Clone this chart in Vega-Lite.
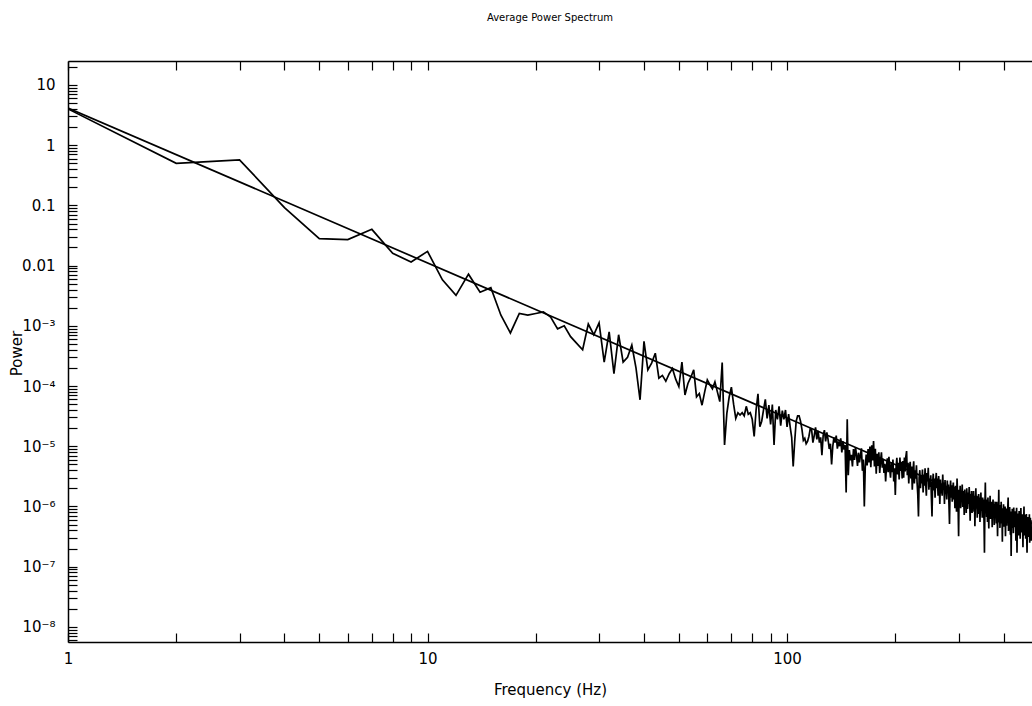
{
"$schema":"https://vega.github.io/schema/vega-lite/v6.json",
"width":964,"height":581,
"autosize":{"type":"none"},
"padding":{"left":68,"top":61,"right":0,"bottom":64},
"background":"white",
"title":{"text":"Average Power Spectrum","font":"DejaVu Sans","fontSize":10,"fontWeight":"normal","color":"black","anchor":"middle","offset":27,"baseline":"bottom"},
"datasets":{
"spec":[
{"f":1,"p":4.0},{"f":2,"p":0.5},{"f":3,"p":0.57},{"f":4,"p":0.092},{"f":5,"p":0.028},{"f":6,"p":0.027},{"f":7,"p":0.04},{"f":8,"p":0.016},{"f":9,"p":0.0115},{"f":10,"p":0.0172},
{"f":11,"p":0.0058},{"f":12,"p":0.0032},{"f":13,"p":0.0072},{"f":14,"p":0.0036},{"f":15,"p":0.0043},{"f":16,"p":0.0015},{"f":17,"p":0.00076},{"f":18,"p":0.0016},{"f":19,"p":0.0015},{"f":20,"p":0.0016},
{"f":21,"p":0.0017},{"f":22,"p":0.0014},{"f":23,"p":0.00089},{"f":24,"p":0.001},{"f":25,"p":0.00066},{"f":26,"p":0.00051},{"f":27,"p":0.0004},{"f":28,"p":0.00107},{"f":29,"p":0.00071},{"f":30,"p":0.00112},
{"f":31,"p":0.00025},{"f":32,"p":0.00079},{"f":33,"p":0.00016},{"f":34,"p":0.00071},{"f":35,"p":0.00025},{"f":36,"p":0.0003},{"f":37,"p":0.00048},{"f":38,"p":0.0002},{"f":39,"p":5.9e-5},{"f":40,"p":0.00055},
{"f":41,"p":0.000185},{"f":42,"p":0.00024},{"f":43,"p":0.00035},{"f":44,"p":0.000135},{"f":45,"p":0.00015},{"f":46,"p":0.00012},{"f":47,"p":0.00016},{"f":48,"p":0.000195},{"f":49,"p":0.00013},{"f":50,"p":9.8e-5},
{"f":51,"p":0.00025},{"f":52,"p":7.1e-5},{"f":53,"p":0.00011},{"f":54,"p":0.00014},{"f":55,"p":0.000185},{"f":56,"p":6.6e-5},{"f":57,"p":7.5e-5},{"f":58,"p":4.8e-5},{"f":59,"p":8.0e-5},{"f":60,"p":0.000126},
{"f":61,"p":0.000105},{"f":62,"p":9.0e-5},{"f":63,"p":0.000117},{"f":64,"p":8.0e-5},{"f":65,"p":5.5e-5},{"f":66,"p":0.000245},{"f":67,"p":1.05e-5},{"f":68,"p":3.5e-5},{"f":69,"p":6.5e-5},{"f":70,"p":9.6e-5},
{"f":71,"p":5.0e-5},{"f":72,"p":2.9e-5},{"f":73,"p":3.6e-5},{"f":74,"p":3.3e-5},{"f":75,"p":3.6e-5},{"f":76,"p":3.2e-5},{"f":77,"p":4.6e-5},{"f":78,"p":3.4e-5},{"f":79,"p":3.6e-5},{"f":80,"p":2.8e-5},
{"f":81,"p":1.45e-5},{"f":82,"p":4.0e-5},{"f":83,"p":7.4e-5},{"f":84,"p":2.1e-5},{"f":85,"p":2.6e-5},{"f":86,"p":4.0e-5},{"f":87,"p":6.0e-5},{"f":88,"p":2.9e-5},{"f":89,"p":4.8e-5},{"f":90,"p":2.3e-5},
{"f":91,"p":4.9e-5},{"f":92,"p":1.05e-5},{"f":93,"p":4.0e-5},{"f":94,"p":2.8e-5},{"f":95,"p":4.6e-5},{"f":96,"p":2.2e-5},{"f":97,"p":3.9e-5},{"f":98,"p":2.8e-5},{"f":99,"p":4.0e-5},{"f":100,"p":2.1e-5},
{"f":101,"p":3.4e-5},{"f":102,"p":2.1e-5},{"f":103,"p":1.4e-5},{"f":104,"p":4.6e-6},{"f":105,"p":1.2e-5},{"f":106,"p":2.6e-5},{"f":107,"p":3.2e-5},{"f":108,"p":3.2e-5},{"f":109,"p":2.6e-5},{"f":110,"p":1.9e-5},
{"f":111,"p":1.25e-5},{"f":112,"p":1.35e-5},{"f":113,"p":1.1e-5},{"f":114,"p":1.2e-5},{"f":115,"p":1.45e-5},{"f":116,"p":1.95e-5},{"f":117,"p":1.9e-5},{"f":118,"p":1.15e-5},{"f":119,"p":1.5e-5},{"f":120,"p":2.05e-5},
{"f":121,"p":1.3e-5},{"f":122,"p":1.8e-5},{"f":123,"p":1.15e-5},{"f":124,"p":1.4e-5},{"f":125,"p":7.1e-6},{"f":126,"p":1.5e-5},{"f":127,"p":1.85e-5},{"f":128,"p":1.2e-5},{"f":129,"p":1.7e-5},{"f":130,"p":1.3e-5},
{"f":131,"p":9.0e-6},{"f":132,"p":1.1e-5},{"f":133,"p":5.0e-6},{"f":134,"p":9.9e-6},{"f":135,"p":1.4e-5},{"f":136,"p":1.15e-5},{"f":137,"p":1.5e-5},{"f":138,"p":9.1e-6},{"f":139,"p":1.2e-5},{"f":140,"p":1.0e-5},
{"f":141,"p":1.35e-5},{"f":142,"p":7.9e-6},{"f":143,"p":1.2e-5},{"f":144,"p":8.8e-6},{"f":145,"p":1.05e-5},{"f":146,"p":1.7e-6},{"f":147,"p":2.8e-5},{"f":148,"p":3.3e-6},{"f":149,"p":8.6e-6},{"f":150,"p":5.8e-6},
{"f":151,"p":7.2e-6},{"f":152,"p":4.6e-6},{"f":153,"p":9.0e-6},{"f":154,"p":5.9e-6},{"f":155,"p":9.7e-6},{"f":156,"p":7.1e-6},{"f":157,"p":4.7e-6},{"f":158,"p":7.8e-6},{"f":159,"p":5.4e-6},{"f":160,"p":7.1e-6},
{"f":161,"p":9.2e-6},{"f":162,"p":3.9e-6},{"f":163,"p":6.0e-6},{"f":164,"p":1.0e-6},{"f":165,"p":4.5e-6},{"f":166,"p":7.3e-6},{"f":167,"p":4.8e-6},{"f":168,"p":9.0e-6},{"f":169,"p":5.4e-6},{"f":170,"p":9.9e-6},
{"f":171,"p":4.5e-6},{"f":172,"p":1.04e-5},{"f":173,"p":5.8e-6},{"f":174,"p":1.22e-5},{"f":175,"p":4.6e-6},{"f":176,"p":9.1e-6},{"f":177,"p":3.5e-6},{"f":178,"p":7.5e-6},{"f":179,"p":4.7e-6},{"f":180,"p":7.9e-6},
{"f":181,"p":3.6e-6},{"f":182,"p":5.8e-6},{"f":183,"p":7.9e-6},{"f":184,"p":4.4e-6},{"f":185,"p":6.2e-6},{"f":186,"p":3.6e-6},{"f":187,"p":5.1e-6},{"f":188,"p":2.6e-6},{"f":189,"p":4.6e-6},{"f":190,"p":6.3e-6},
{"f":191,"p":3.7e-6},{"f":192,"p":6.7e-6},{"f":193,"p":4.1e-6},{"f":194,"p":3.0e-6},{"f":195,"p":5.4e-6},{"f":196,"p":3.7e-6},{"f":197,"p":6.0e-6},{"f":198,"p":2.6e-6},{"f":199,"p":4.3e-6},{"f":200,"p":1.55e-6},
{"f":201,"p":4.5e-6},{"f":202,"p":6.4e-6},{"f":203,"p":3.4e-6},{"f":204,"p":5.3e-6},{"f":205,"p":2.8e-6},{"f":206,"p":6.5e-6},{"f":207,"p":3.9e-6},{"f":208,"p":5.5e-6},{"f":209,"p":2.9e-6},{"f":210,"p":5.7e-6},
{"f":211,"p":3.0e-6},{"f":212,"p":6.5e-6},{"f":213,"p":3.8e-6},{"f":214,"p":6.7e-6},{"f":215,"p":8.3e-6},{"f":216,"p":3.3e-6},{"f":217,"p":5.3e-6},{"f":218,"p":2.4e-6},{"f":219,"p":4.4e-6},{"f":220,"p":5.5e-6},
{"f":221,"p":2.9e-6},{"f":222,"p":4.6e-6},{"f":223,"p":1.9e-6},{"f":224,"p":3.75e-6},{"f":225,"p":5.6e-6},{"f":226,"p":2.4e-6},{"f":227,"p":4.0e-6},{"f":228,"p":2.9e-6},{"f":229,"p":4.8e-6},{"f":230,"p":2.4e-6},
{"f":231,"p":1.55e-6},{"f":232,"p":6.8e-7},{"f":233,"p":3.0e-6},{"f":234,"p":4.0e-6},{"f":235,"p":2.0e-6},{"f":236,"p":3.3e-6},{"f":237,"p":2.4e-6},{"f":238,"p":4.1e-6},{"f":239,"p":1.7e-6},{"f":240,"p":3.4e-6},
{"f":241,"p":2.2e-6},{"f":242,"p":4.3e-6},{"f":243,"p":2.4e-6},{"f":244,"p":1.5e-6},{"f":245,"p":3.6e-6},{"f":246,"p":2.6e-6},{"f":247,"p":4.4e-6},{"f":248,"p":1.9e-6},{"f":249,"p":2.8e-6},{"f":250,"p":2.1e-6},
{"f":251,"p":3.3e-6},{"f":252,"p":1.4e-6},{"f":253,"p":6.8e-7},{"f":254,"p":2.4e-6},{"f":255,"p":3.5e-6},{"f":256,"p":1.85e-6},{"f":257,"p":2.9e-6},{"f":258,"p":1.4e-6},{"f":259,"p":2.6e-6},{"f":260,"p":3.6e-6},
{"f":261,"p":2.0e-6},{"f":262,"p":2.9e-6},{"f":263,"p":1.5e-6},{"f":264,"p":3.2e-6},{"f":265,"p":2.2e-6},{"f":266,"p":1.1e-6},{"f":267,"p":2.8e-6},{"f":268,"p":1.65e-6},{"f":269,"p":2.4e-6},{"f":270,"p":1.5e-6},
{"f":271,"p":3.4e-6},{"f":272,"p":1.9e-6},{"f":273,"p":2.5e-6},{"f":274,"p":1.1e-6},{"f":275,"p":2.75e-6},{"f":276,"p":1.6e-6},{"f":277,"p":2.15e-6},{"f":278,"p":1.3e-6},{"f":279,"p":2.7e-6},{"f":280,"p":1.7e-6},
{"f":281,"p":2.3e-6},{"f":282,"p":1.1e-6},{"f":283,"p":5.1e-7},{"f":284,"p":1.8e-6},{"f":285,"p":2.7e-6},{"f":286,"p":1.4e-6},{"f":287,"p":2.25e-6},{"f":288,"p":1.2e-6},{"f":289,"p":1.9e-6},{"f":290,"p":2.5e-6},
{"f":291,"p":1.3e-6},{"f":292,"p":2.1e-6},{"f":293,"p":9.3e-7},{"f":294,"p":2.2e-6},{"f":295,"p":1.5e-6},{"f":296,"p":8.2e-7},{"f":297,"p":2.9e-6},{"f":298,"p":1.6e-6},{"f":299,"p":1.05e-6},{"f":300,"p":3.2e-7},
{"f":301,"p":1.9e-6},{"f":302,"p":1.2e-6},{"f":303,"p":2.2e-6},{"f":304,"p":9.3e-7},{"f":305,"p":1.7e-6},{"f":306,"p":1.25e-6},{"f":307,"p":2.3e-6},{"f":308,"p":9.8e-7},{"f":309,"p":1.8e-6},{"f":310,"p":1.3e-6},
{"f":311,"p":7.2e-7},{"f":312,"p":1.9e-6},{"f":313,"p":1.1e-6},{"f":314,"p":1.6e-6},{"f":315,"p":7.8e-7},{"f":316,"p":2.0e-6},{"f":317,"p":1.3e-6},{"f":318,"p":9.1e-7},{"f":319,"p":1.7e-6},{"f":320,"p":1.1e-6},
{"f":321,"p":2.1e-6},{"f":322,"p":1.3e-6},{"f":323,"p":5.8e-7},{"f":324,"p":1.6e-6},{"f":325,"p":1.0e-6},{"f":326,"p":1.8e-6},{"f":327,"p":7.8e-7},{"f":328,"p":1.4e-6},{"f":329,"p":1.1e-6},{"f":330,"p":1.8e-6},
{"f":331,"p":8.2e-7},{"f":332,"p":1.5e-6},{"f":333,"p":4.7e-7},{"f":334,"p":1.2e-6},{"f":335,"p":2.0e-6},{"f":336,"p":9.2e-7},{"f":337,"p":1.5e-6},{"f":338,"p":6.5e-7},{"f":339,"p":1.2e-6},{"f":340,"p":9.5e-7},
{"f":341,"p":1.6e-6},{"f":342,"p":7.5e-7},{"f":343,"p":1.4e-6},{"f":344,"p":5.5e-7},{"f":345,"p":1.2e-6},{"f":346,"p":1.7e-6},{"f":347,"p":8.5e-7},{"f":348,"p":1.1e-6},{"f":349,"p":6.5e-7},{"f":350,"p":1.4e-6},
{"f":351,"p":9.4e-7},{"f":352,"p":1.3e-6},{"f":353,"p":5.8e-7},{"f":354,"p":1.7e-7},{"f":355,"p":1.0e-6},{"f":356,"p":2.5e-6},{"f":357,"p":7.8e-7},{"f":358,"p":1.3e-6},{"f":359,"p":6.7e-7},{"f":360,"p":1.15e-6},
{"f":361,"p":5.5e-7},{"f":362,"p":1.4e-6},{"f":363,"p":8.6e-7},{"f":364,"p":4.3e-7},{"f":365,"p":1.2e-6},{"f":366,"p":7.4e-7},{"f":367,"p":1.5e-6},{"f":368,"p":6.2e-7},{"f":369,"p":1.0e-6},{"f":370,"p":7.7e-7},
{"f":371,"p":1.2e-6},{"f":372,"p":4.5e-7},{"f":373,"p":9.0e-7},{"f":374,"p":1.3e-6},{"f":375,"p":6.4e-7},{"f":376,"p":1.1e-6},{"f":377,"p":4.9e-7},{"f":378,"p":8.2e-7},{"f":379,"p":1.2e-6},{"f":380,"p":6.7e-7},
{"f":381,"p":9.5e-7},{"f":382,"p":5.2e-7},{"f":383,"p":1.2e-6},{"f":384,"p":7.4e-7},{"f":385,"p":3.2e-7},{"f":386,"p":1.0e-6},{"f":387,"p":6.8e-7},{"f":388,"p":1.9e-6},{"f":389,"p":5.4e-7},{"f":390,"p":8.9e-7},
{"f":391,"p":4.4e-7},{"f":392,"p":1.06e-6},{"f":393,"p":6.6e-7},{"f":394,"p":1.2e-6},{"f":395,"p":5.2e-7},{"f":396,"p":7.7e-7},{"f":397,"p":2.6e-7},{"f":398,"p":9.3e-7},{"f":399,"p":5.9e-7},{"f":400,"p":1.09e-6},
{"f":401,"p":4.6e-7},{"f":402,"p":8.3e-7},{"f":403,"p":6.6e-7},{"f":404,"p":1.0e-6},{"f":405,"p":3.2e-7},{"f":406,"p":7.3e-7},{"f":407,"p":9.2e-7},{"f":408,"p":4.8e-7},{"f":409,"p":7.9e-7},{"f":410,"p":5.5e-7},
{"f":411,"p":9.4e-7},{"f":412,"p":1.4e-6},{"f":413,"p":3.9e-7},{"f":414,"p":8.1e-7},{"f":415,"p":5.0e-7},{"f":416,"p":9.8e-7},{"f":417,"p":6.0e-7},{"f":418,"p":3.4e-7},{"f":419,"p":8.2e-7},{"f":420,"p":1.5e-7},
{"f":421,"p":6.6e-7},{"f":422,"p":4.4e-7},{"f":423,"p":9.1e-7},{"f":424,"p":5.4e-7},{"f":425,"p":7.2e-7},{"f":426,"p":3.6e-7},{"f":427,"p":9.6e-7},{"f":428,"p":4.9e-7},{"f":429,"p":7.7e-7},{"f":430,"p":4.5e-7},
{"f":431,"p":8.3e-7},{"f":432,"p":5.8e-7},{"f":433,"p":2.7e-7},{"f":434,"p":6.8e-7},{"f":435,"p":9.5e-7},{"f":436,"p":1.7e-7},{"f":437,"p":6.0e-7},{"f":438,"p":7.6e-7},{"f":439,"p":4.0e-7},{"f":440,"p":6.9e-7},
{"f":441,"p":3.3e-7},{"f":442,"p":8.4e-7},{"f":443,"p":4.8e-7},{"f":444,"p":7.0e-7},{"f":445,"p":2.9e-7},{"f":446,"p":6.3e-7},{"f":447,"p":9.4e-7},{"f":448,"p":4.4e-7},{"f":449,"p":5.6e-7},{"f":450,"p":3.7e-7},
{"f":451,"p":7.4e-7},{"f":452,"p":4.9e-7},{"f":453,"p":2.1e-7},{"f":454,"p":6.7e-7},{"f":455,"p":4.2e-7},{"f":456,"p":1.0e-6},{"f":457,"p":3.3e-7},{"f":458,"p":5.9e-7},{"f":459,"p":4.4e-7},{"f":460,"p":7.3e-7},
{"f":461,"p":2.9e-7},{"f":462,"p":5.2e-7},{"f":463,"p":7.5e-7},{"f":464,"p":3.4e-7},{"f":465,"p":1.7e-7},{"f":466,"p":6.2e-7},{"f":467,"p":4.5e-7},{"f":468,"p":6.7e-7},{"f":469,"p":3.1e-7},{"f":470,"p":5.5e-7},
{"f":471,"p":3.9e-7},{"f":472,"p":7.4e-7},{"f":473,"p":2.5e-7},{"f":474,"p":4.9e-7},{"f":475,"p":6.5e-7},{"f":476,"p":3.2e-7},{"f":477,"p":5.9e-7},{"f":478,"p":2.7e-7},{"f":479,"p":4.2e-7},{"f":480,"p":2.9e-7}
],
"fit":[{"f":1,"p":4.15},{"f":480,"p":5.2e-7}]
},
"layer":[
{"data":{"name":"spec"},
 "mark":{"type":"line","color":"black","strokeWidth":1.7,"clip":true},
 "encoding":{
  "x":{"field":"f","type":"quantitative","scale":{"type":"log","domain":[1,480],"nice":false},
   "axis":{"orient":"bottom","title":"Frequency (Hz)","titlePadding":16,
    "values":[1,2,3,4,5,6,7,8,9,10,20,30,40,50,60,70,80,90,100,200,300,400],
    "labelExpr":"datum.value==1?'1':datum.value==10?'10':datum.value==100?'100':''",
    "labelOverlap":false,"labelFlush":false,"labelBound":false,"labelPadding":18,"tickSize":-9,
    "encode":{"ticks":{"update":{"y2":{"signal":"abs(log(datum.value)/LN10-round(log(datum.value)/LN10))<0.001 ? -9 : -5"}}}}}},
  "y":{"field":"p","type":"quantitative","scale":{"type":"log","domain":[5.6e-9,25],"nice":false},
   "axis":{"orient":"left","title":"Power","titleAngle":-90,"titleX":-52,"titleY":292,"titleBaseline":"middle","titleAlign":"center",
    "values":[6e-9,7e-9,8e-9,9e-9,1e-8,2e-8,3e-8,4e-8,5e-8,6e-8,7e-8,8e-8,9e-8,1e-7,2e-7,3e-7,4e-7,5e-7,6e-7,7e-7,8e-7,9e-7,1e-6,2e-6,3e-6,4e-6,5e-6,6e-6,7e-6,8e-6,9e-6,1e-5,2e-5,3e-5,4e-5,5e-5,6e-5,7e-5,8e-5,9e-5,1e-4,2e-4,3e-4,4e-4,5e-4,6e-4,7e-4,8e-4,9e-4,0.001,0.002,0.003,0.004,0.005,0.006,0.007,0.008,0.009,0.01,0.02,0.03,0.04,0.05,0.06,0.07,0.08,0.09,0.1,0.2,0.3,0.4,0.5,0.6,0.7,0.8,0.9,1,2,3,4,5,6,7,8,9,10,20],
    "labelExpr":"abs(log(datum.value)/LN10-round(log(datum.value)/LN10))>0.001 ? '' : round(log(datum.value)/LN10)==1 ? '10' : round(log(datum.value)/LN10)==0 ? '1' : round(log(datum.value)/LN10)==-1 ? '0.1' : round(log(datum.value)/LN10)==-2 ? '0.01' : '10⁻' + ['⁰','¹','²','³','⁴','⁵','⁶','⁷','⁸','⁹'][-round(log(datum.value)/LN10)]",
    "labelOverlap":false,"labelFlush":false,"labelBound":false,"labelPadding":22,"tickSize":-9,
    "encode":{"ticks":{"update":{"x2":{"signal":"abs(log(datum.value)/LN10-round(log(datum.value)/LN10))<0.001 ? 9 : 5"}}}}}}
 }},
{"data":{"name":"fit"},
 "mark":{"type":"line","color":"black","strokeWidth":1.7,"clip":true},
 "encoding":{
  "x":{"field":"f","type":"quantitative","scale":{"type":"log","domain":[1,480],"nice":false},
   "axis":{"orient":"top","title":null,"labels":false,
    "values":[1,2,3,4,5,6,7,8,9,10,20,30,40,50,60,70,80,90,100,200,300,400],
    "tickSize":-9,
    "encode":{"ticks":{"update":{"y2":{"signal":"abs(log(datum.value)/LN10-round(log(datum.value)/LN10))<0.001 ? 9 : 5"}}}}}},
  "y":{"field":"p","type":"quantitative","scale":{"type":"log","domain":[5.6e-9,25],"nice":false}}
 }}
],
"resolve":{"axis":{"x":"independent"}},
"config":{
 "view":{"stroke":null},
 "axis":{"labelFont":"DejaVu Sans","labelFontSize":15,"labelColor":"black","titleFont":"DejaVu Sans","titleFontSize":15,"titleFontWeight":"normal","titleColor":"black","domainColor":"black","domainWidth":1.5,"tickColor":"black","tickWidth":1.2,"grid":false}
}
}
